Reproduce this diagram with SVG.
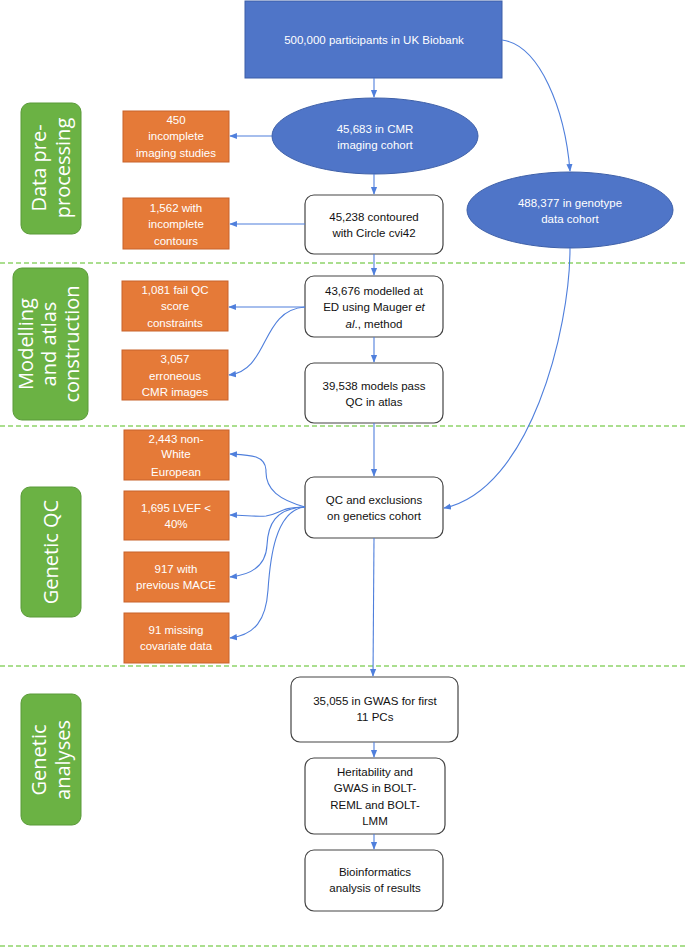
<svg xmlns="http://www.w3.org/2000/svg" width="685" height="948" viewBox="0 0 685 948">
<style>
.b{fill:#4f75c8;stroke:#3d5fa8;stroke-width:1}
.o{fill:#e57a38;stroke:#c8622a;stroke-width:1}
.w{fill:#fff;stroke:#444;stroke-width:1.2}
.g{fill:#6bb244;stroke:#5a9a38;stroke-width:1}
.t{font-family:"Liberation Sans",Arial,sans-serif;font-size:11.5px;text-anchor:middle}
.tw{fill:#fff}
.tk{fill:#111}
.gl{font-family:"Open Sans","DejaVu Sans",sans-serif;font-size:20px;fill:#fff;text-anchor:middle}
.c{fill:none;stroke:#4f7fdc;stroke-width:1.1;marker-end:url(#a)}
.d{stroke:#8fd36a;stroke-width:1.5;stroke-dasharray:5 3}
</style>
<defs><marker id="a" viewBox="0 0 10 10" refX="9" refY="5" markerWidth="7" markerHeight="7" orient="auto"><path d="M0,1 L10,5 L0,9 z" fill="#4f7fdc"/></marker></defs>
<rect width="685" height="948" fill="#fff"/>
<g id="dividers"><line class="d" x1="0" y1="263" x2="685" y2="263"/><line class="d" x1="0" y1="426" x2="685" y2="426"/><line class="d" x1="0" y1="666" x2="685" y2="666"/><line class="d" x1="0" y1="946" x2="685" y2="946"/></g>
<g id="g1"><rect class="g" x="21" y="103" width="60" height="131" rx="9"/><text class="gl" transform="translate(51,168) rotate(-90)"><tspan x="0" y="-5">Data pre-</tspan><tspan x="0" y="19">processing</tspan></text></g>
<g id="g2"><rect class="g" x="13" y="268" width="75" height="152" rx="9"/><text class="gl" transform="translate(50,344) rotate(-90)"><tspan x="0" y="-17">Modelling</tspan><tspan x="0" y="6">and atlas</tspan><tspan x="0" y="29">construction</tspan></text></g>
<g id="g3"><rect class="g" x="21" y="487" width="60" height="130" rx="9"/><text class="gl" transform="translate(51,552) rotate(-90)"><tspan x="0" y="7">Genetic QC</tspan></text></g>
<g id="g4"><rect class="g" x="21" y="694" width="60" height="131" rx="9"/><text class="gl" transform="translate(51,760) rotate(-90)"><tspan x="0" y="-5">Genetic</tspan><tspan x="0" y="19">analyses</tspan></text></g>
<g id="n1"><rect class="b" x="245" y="1" width="257" height="77"/><text class="t tw" x="374" y="44">500,000 participants in UK Biobank</text></g>
<g id="n2"><ellipse class="b" cx="375" cy="136" rx="103" ry="38"/><text class="t tw" x="375" y="133">45,683 in CMR</text><text class="t tw" x="375" y="149">imaging cohort</text></g>
<g id="n3"><ellipse class="b" cx="570" cy="210" rx="103" ry="38"/><text class="t tw" x="570" y="207">488,377 in genotype</text><text class="t tw" x="570" y="223">data cohort</text></g>
<g id="o1"><rect class="o" x="123" y="111" width="106" height="51"/><text class="t tw" x="176" y="124">450</text><text class="t tw" x="176" y="140">incomplete</text><text class="t tw" x="176" y="157">imaging studies</text></g>
<g id="o2"><rect class="o" x="123" y="198" width="106" height="51"/><text class="t tw" x="176" y="212">1,562 with</text><text class="t tw" x="176" y="228">incomplete</text><text class="t tw" x="176" y="245">contours</text></g>
<g id="o3"><rect class="o" x="122" y="281" width="106" height="50"/><text class="t tw" x="175" y="294">1,081 fail QC</text><text class="t tw" x="175" y="310">score</text><text class="t tw" x="175" y="327">constraints</text></g>
<g id="o4"><rect class="o" x="122" y="350" width="106" height="50"/><text class="t tw" x="175" y="363">3,057</text><text class="t tw" x="175" y="380">erroneous</text><text class="t tw" x="175" y="396">CMR images</text></g>
<g id="o5"><rect class="o" x="124" y="430" width="105" height="50"/><text class="t tw" x="176" y="443">2,443 non-</text><text class="t tw" x="176" y="458">White</text><text class="t tw" x="176" y="476">European</text></g>
<g id="o6"><rect class="o" x="124" y="491" width="105" height="49"/><text class="t tw" x="176" y="512">1,695 LVEF &lt;</text><text class="t tw" x="176" y="528">40%</text></g>
<g id="o7"><rect class="o" x="124" y="552" width="105" height="50"/><text class="t tw" x="176" y="573">917 with</text><text class="t tw" x="176" y="589">previous MACE</text></g>
<g id="o8"><rect class="o" x="124" y="613" width="105" height="50"/><text class="t tw" x="176" y="634">91 missing</text><text class="t tw" x="176" y="650">covariate data</text></g>
<g id="n4"><rect class="w" x="305" y="195" width="138" height="59" rx="9"/><text class="t tk" x="374" y="221">45,238 contoured</text><text class="t tk" x="374" y="237">with Circle cvi42</text></g>
<g id="n5"><rect class="w" x="305" y="276" width="138" height="61" rx="9"/><text class="t tk" x="374" y="295">43,676 modelled at</text><text class="t tk" x="374" y="311">ED using Mauger <tspan font-style="italic">et</tspan></text><text class="t tk" x="374" y="328"><tspan font-style="italic">al</tspan>., method</text></g>
<g id="n6"><rect class="w" x="305" y="363" width="138" height="60" rx="9"/><text class="t tk" x="374" y="390">39,538 models pass</text><text class="t tk" x="374" y="406">QC in atlas</text></g>
<g id="n7"><rect class="w" x="305" y="477" width="138" height="61" rx="9"/><text class="t tk" x="374" y="504">QC and exclusions</text><text class="t tk" x="374" y="520">on genetics cohort</text></g>
<g id="n8"><rect class="w" x="291" y="677" width="167" height="65" rx="9"/><text class="t tk" x="375" y="705">35,055 in GWAS for first</text><text class="t tk" x="375" y="721">11 PCs</text></g>
<g id="n9"><rect class="w" x="305" y="758" width="140" height="76" rx="9"/><text class="t tk" x="375" y="776">Heritability and</text><text class="t tk" x="375" y="792">GWAS in BOLT-</text><text class="t tk" x="375" y="809">REML and BOLT-</text><text class="t tk" x="375" y="825">LMM</text></g>
<g id="n10"><rect class="w" x="305" y="850" width="138" height="61" rx="9"/><text class="t tk" x="375" y="876">Bioinformatics</text><text class="t tk" x="375" y="892">analysis of results</text></g>
<g id="connectors">
<path class="c" d="M374,78 V97"/>
<path class="c" d="M374,174 V194"/>
<path class="c" d="M374,254 V275"/>
<path class="c" d="M374,337 V362"/>
<path class="c" d="M374,423 V476"/>
<path class="c" d="M374,538 L373,676"/>
<path class="c" d="M374,742 V757"/>
<path class="c" d="M374,834 V849"/>
<path class="c" d="M502,40 C540,45 565,110 570,171"/>
<path class="c" d="M570,248 C570,330 530,490 444,508"/>
<path class="c" d="M272,136 H230"/>
<path class="c" d="M305,224 H230"/>
<path class="c" d="M305,307 H229"/>
<path class="c" d="M305,307 C260,310 270,370 229,375"/>
<path class="c" d="M305,507 C280,500 265,490 266,470 C265,455 250,455 230,454"/>
<path class="c" d="M305,507 C280,507 280,514 266,516 C255,517 245,515 230,515"/>
<path class="c" d="M305,507 C275,508 268,525 267,545 C266,567 250,575 230,577"/>
<path class="c" d="M305,507 C275,510 270,560 268,590 C266,620 255,635 230,638"/>
</g>
</svg>
